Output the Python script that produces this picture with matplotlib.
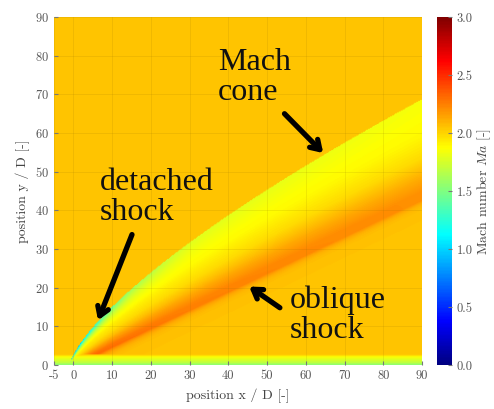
import numpy as np
import matplotlib.pyplot as plt
from matplotlib.colors import LinearSegmentedColormap

plt.rcParams.update({
    "font.family": "serif",
    "font.serif": ["cmr10", "DejaVu Serif"],
    "mathtext.fontset": "cm",
    "axes.formatter.use_mathtext": True,
    "font.size": 9,
})

# free stream Mach number (background)
ma_free = 2.05

# cone geometry: upper edge y = cone_a * (x - x_apex)^cone_p, lower edge y = shock_slope * (x - shock_x0)
x_apex = -1.0
cone_a = 2.67
cone_p = 0.72
shock_slope = 0.475
shock_x0 = 0.5

# Mach number across the cone (s = 0 at oblique shock, s = 1 at cone edge)
cone_s = [0.0, 0.08, 0.22, 0.42, 0.65, 0.9, 1.0]
cone_ma = [2.2, 2.2, 2.12, 1.98, 1.89, 1.86, 1.85]

# extra deficit at cone edge near the nose (detached shock)
edge_x = [-1, 0, 3, 8, 15, 30, 90]
edge_drop = [1.6, 1.1, 0.8, 0.5, 0.25, 0.07, 0.0]

# extra rise at oblique shock near the nose
low_x = [0, 5, 15, 30, 60, 90]
low_add = [0.13, 0.12, 0.09, 0.05, 0.02, 0.0]

# wall strip along y = 0
wall_y = [0.0, 0.5, 1.2, 2.0, 2.6]
wall_ma = [1.55, 1.68, 1.76, 1.86, ma_free]

# x tick labels
x_ticks = [-5, 0, 10, 20, 30, 40, 50, 60, 70, 80, 90]
x_tick_labels = ["-5", "0", "10", "20", "30", "40", "50", "60", "70", "80", "90"]

# annotations (position = left end of last line's baseline)
notes = ["Mach\ncone", "detached\nshock", "oblique\nshock"]
note_xy = [(37.3, 68.5), (6.9, 37.5), (55.9, 7.0)]
arrow_tail = [(54, 65.5), (15.4, 34.4), (53.9, 14.4)]
arrow_head = [(65, 54.3), (6.1, 10.9), (44.8, 20.7)]

cmap = LinearSegmentedColormap.from_list(
    "matlab_jet",
    [(0, (0, 0, 0.5)), (0.125, (0, 0, 1)), (0.375, (0, 1, 1)),
     (0.625, (1, 1, 0)), (0.875, (1, 0, 0)), (1, (0.5, 0, 0))])

x = np.linspace(-5, 90, 381)
y = np.linspace(0, 90, 361)
X, Y = np.meshgrid(x, y)

yu = cone_a * np.clip(X - x_apex, 0, None) ** cone_p
yl = shock_slope * np.clip(X - shock_x0, 0, None)
inside = (X > x_apex) & (Y <= yu) & (Y >= yl)
s = np.clip((Y - yl) / np.maximum(yu - yl, 1e-6), 0, 1)

ma = np.full_like(X, ma_free)
core = np.interp(s, cone_s, cone_ma)
edge = np.interp(X, edge_x, edge_drop) * np.clip((s - 0.55) / 0.45, 0, 1) ** 2
low = np.interp(X, low_x, low_add) * np.clip(1 - s / 0.3, 0, 1)
ma[inside] = (core - edge + low)[inside]

# soft fade below the oblique shock
below = (X > shock_x0) & (Y < yl)
peak = cone_ma[0] + np.interp(X, low_x, low_add) - ma_free
ma[below] = (ma_free + peak * np.exp(-(yl - Y) / 1.0))[below]

wall = np.interp(Y, wall_y, wall_ma)
ma = np.where(Y < wall_y[-1], np.minimum(ma, wall), ma)

fig = plt.figure(figsize=(4.94, 4.09), dpi=100)
ax = fig.add_axes([54 / 494, 44 / 409, 368 / 494, 348 / 409])
cax = fig.add_axes([437 / 494, 44 / 409, 15 / 494, 348 / 409])

im = ax.imshow(ma, origin="lower", extent=(-5, 90, 0, 90), cmap=cmap,
               vmin=0, vmax=3, aspect="auto", interpolation="bilinear")
ax.set_xlim(-5, 90)
ax.set_ylim(0, 90)
ax.set_xticks(x_ticks)
ax.set_xticklabels(x_tick_labels)
ax.set_yticks(range(0, 91, 10))
ax.grid(True, color="#8a6a00", alpha=0.15, lw=0.6)
ax.tick_params(direction="in", colors="#777777", labelcolor="#555555", length=3)
for sp in ax.spines.values():
    sp.set_visible(False)
ax.set_xlabel("position x / D [-]", color="#444444", fontsize=10, labelpad=5)
ax.set_ylabel("position y / D [-]", color="#444444", fontsize=10)

cb = fig.colorbar(im, cax=cax, ticks=np.arange(0, 3.01, 0.5))
cb.ax.yaxis.set_major_formatter(plt.FormatStrFormatter("%.1f"))
cb.ax.tick_params(direction="in", colors="#777777", labelcolor="#555555", length=3)
cb.outline.set_visible(False)
cb.set_label("Mach number $Ma$ [-]", color="#444444", fontsize=10, labelpad=2)

for txt, xy in zip(notes, note_xy):
    ax.text(xy[0], xy[1], txt, ha="left", va="baseline", fontsize=23,
            family="Liberation Serif", color="#111111", linespacing=1.05)
for t, h in zip(arrow_tail, arrow_head):
    ax.annotate("", xy=h, xytext=t,
                arrowprops=dict(arrowstyle="->,head_length=0.7,head_width=0.45",
                                lw=3.8, color="black"))

fig.savefig("out.png", dpi=100)
